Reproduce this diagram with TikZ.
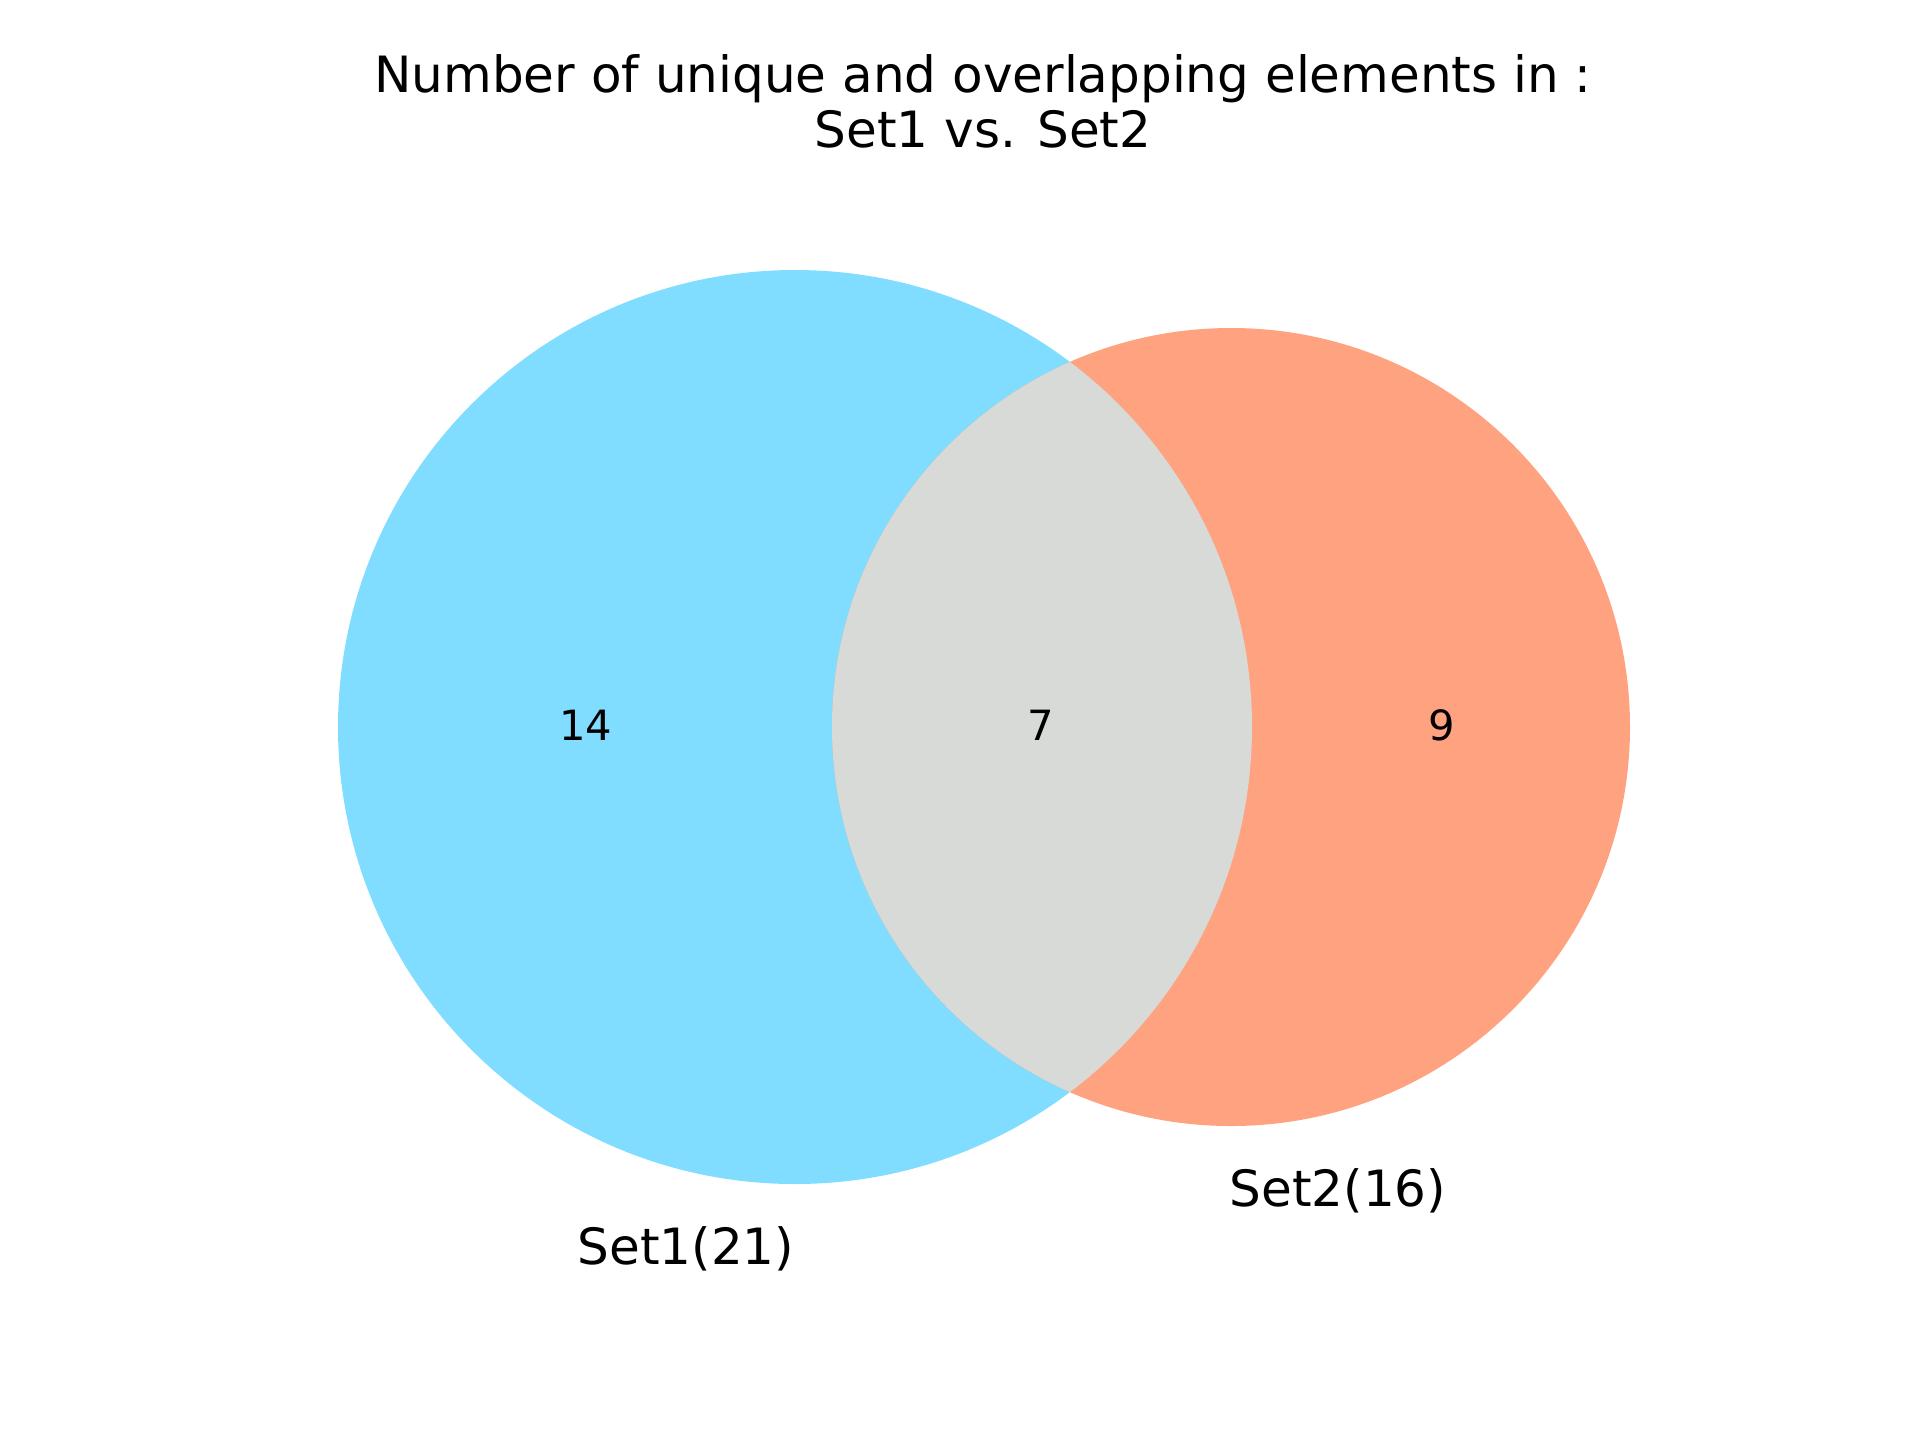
\documentclass[tikz,border=0pt]{standalone}
\usepackage{fontspec}
\setmainfont{DejaVu Sans}
\definecolor{setone}{RGB}{128,221,255}
\definecolor{settwo}{RGB}{255,162,128}
\definecolor{setboth}{RGB}{216,218,215}
\begin{document}
\begin{tikzpicture}[x=0.24pt,y=-0.24pt]
\useasboundingbox (0,0) rectangle (1920,1440);
\fill[setone] (795,727) circle (457);
\fill[settwo] (1231,727) circle (399);
\begin{scope}
\clip (795,727) circle (457);
\fill[setboth] (1231,727) circle (399);
\end{scope}
\node[font=\fontsize{10}{12}\selectfont] (only1) at (586,725) {14};
\node[font=\fontsize{10}{12}\selectfont] (both) at (1041,725) {7};
\node[font=\fontsize{10}{12}\selectfont] (only2) at (1442,725) {9};
\node[font=\fontsize{12}{14}\selectfont] (lab1) at (686,1249) {Set1(21)};
\node[font=\fontsize{12}{14}\selectfont] (lab2) at (1338,1191) {Set2(16)};
\node[font=\fontsize{12}{13.2}\selectfont,align=center] (title) at (983,101) {Number of unique and overlapping elements in :\\Set1 vs. Set2};
\end{tikzpicture}
\end{document}
